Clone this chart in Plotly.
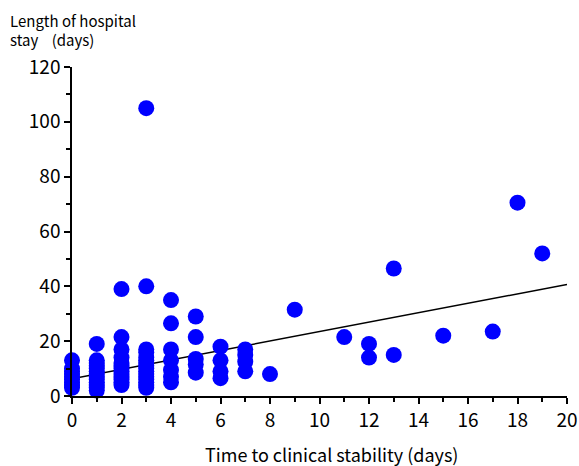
import plotly.graph_objects as go

# Scatter data: time to clinical stability (days) vs length of hospital stay (days)
tcs_days = (
    [0] * 9 + [1] * 13 + [2] * 13 + [3] * 16 + [4] * 7 + [5] * 5 + [6] * 4 + [7] * 4
    + [8, 9, 11, 12, 12, 13, 13, 15, 17, 18, 19]
)
los_days = (
    [13, 10, 9, 8, 7, 6, 5, 4, 3]
    + [19, 13, 12, 11, 10, 9, 8, 7, 6, 5, 4, 3, 2]
    + [39, 21.5, 17, 14, 12, 11, 10, 9, 8, 7, 6, 5, 4]
    + [105, 40, 17, 16, 14, 13, 12, 11, 10, 9, 8, 7, 6, 5, 4, 3]
    + [35, 26.5, 17, 13, 9.5, 7, 5]
    + [29, 21.5, 13.5, 11.5, 8.5]
    + [18, 13, 9, 6.5]
    + [17, 15, 12.5, 9]
    + [8, 31.5, 21.5, 19, 14, 46.5, 15, 22, 23.5, 70.5, 52]
)

# Regression line endpoints
trend_x = [0, 20]
trend_y = [6.3, 40.7]

x_ticks = list(range(0, 21, 2))
y_ticks = list(range(0, 121, 20))

font_family = "Noto Sans CJK JP"

FIG_W, FIG_H = 579, 466
M_L, M_T = 72, 67
PLOT_W, PLOT_H = 495, 329
M_R = FIG_W - M_L - PLOT_W
M_B = FIG_H - M_T - PLOT_H


def px_x(fx):
    return (fx - M_L) / PLOT_W


def px_y(fy):
    return 1 - (fy - M_T) / PLOT_H


fig = go.Figure()
fig.add_trace(go.Scatter(
    x=trend_x, y=trend_y, mode="lines",
    line=dict(color="black", width=1.5),
    showlegend=False, hoverinfo="skip",
))
fig.add_trace(go.Scatter(
    x=tcs_days, y=los_days, mode="markers",
    marker=dict(color="#0000ff", size=16, line=dict(width=0)),
    cliponaxis=False, showlegend=False,
))

fig.update_layout(
    width=FIG_W, height=FIG_H,
    margin=dict(l=M_L, r=M_R, t=M_T, b=M_B, autoexpand=False),
    plot_bgcolor="white", paper_bgcolor="white",
    font=dict(family=font_family, color="black", size=18),
    xaxis=dict(
        range=[0, 20], tickvals=x_ticks, ticktext=[str(v) for v in x_ticks],
        automargin=False, ticklabeloverflow="allow",
        showgrid=False, zeroline=False, showline=True, linecolor="black", linewidth=1.5,
        ticks="outside", ticklen=6, tickwidth=1.5, tickcolor="black",
        minor=dict(tickvals=list(range(1, 20, 2)), ticks="outside", ticklen=4, tickwidth=1.5, tickcolor="black"),
        tickfont=dict(size=19, family=font_family),
    ),
    yaxis=dict(
        range=[0, 120], tickvals=y_ticks, ticktext=[str(v) for v in y_ticks],
        automargin=False,
        showgrid=False, zeroline=False, showline=True, linecolor="black", linewidth=1.5,
        ticks="outside", ticklen=6, tickwidth=1.5, tickcolor="black",
        minor=dict(tickvals=list(range(10, 120, 20)), ticks="outside", ticklen=4, tickwidth=1.5, tickcolor="black"),
        tickfont=dict(size=19, family=font_family),
    ),
    annotations=[
        dict(
            text="Length of hospital",
            xref="paper", yref="paper", x=px_x(8), y=px_y(20),
            xanchor="left", yanchor="middle", align="left", showarrow=False,
            font=dict(size=15, family=font_family),
        ),
        dict(
            text="stay\u00a0\u00a0\u00a0\u00a0(days)",
            xref="paper", yref="paper", x=px_x(8), y=px_y(39),
            xanchor="left", yanchor="middle", align="left", showarrow=False,
            font=dict(size=15, family=font_family),
        ),
        dict(
            text="Time to clinical stability (days)",
            xref="paper", yref="paper", x=px_x(331.5), y=px_y(454),
            xanchor="center", yanchor="middle", showarrow=False,
            font=dict(size=18, family=font_family),
        ),
    ],
)

# Remove the default page margin so the figure fills the window exactly.
fig.write_html(
    "out.html",
    config={"displayModeBar": False},
    post_script="document.body.style.margin='0';document.body.style.overflow='hidden';",
)
